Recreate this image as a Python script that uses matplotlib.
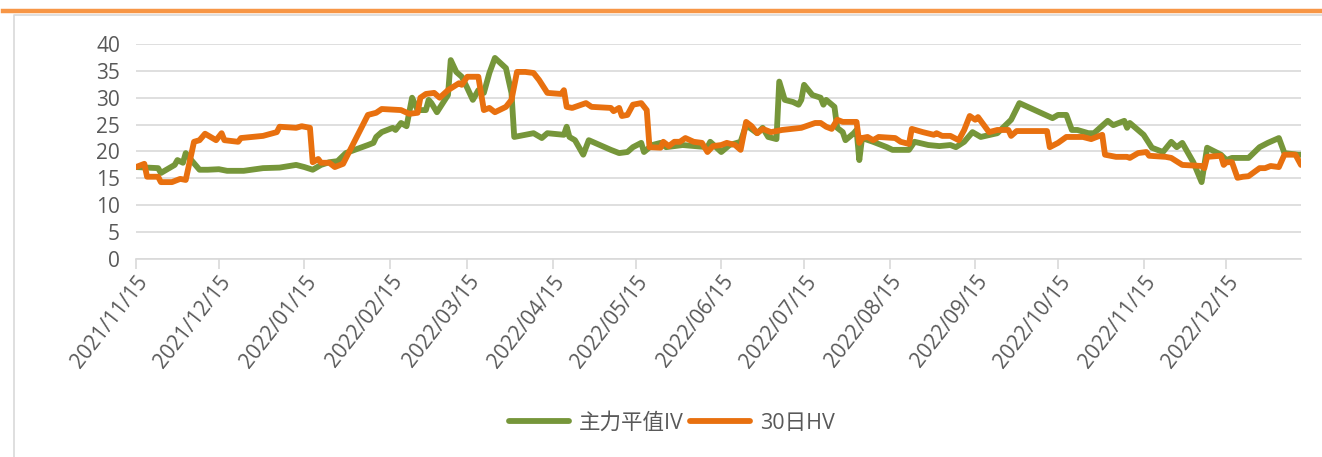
import pandas as pd
import matplotlib.pyplot as plt
import matplotlib.dates as mdates
from matplotlib.lines import Line2D

plt.rcParams['font.family'] = ['Open Sans', 'Noto Sans CJK SC', 'DejaVu Sans']

iv_dates = [
    "2021-11-15", "2021-11-23", "2021-11-24", "2021-11-27", "2021-11-29", "2021-11-30",
    "2021-12-02", "2021-12-03", "2021-12-05", "2021-12-08", "2021-12-11", "2021-12-15",
    "2021-12-18", "2021-12-24", "2021-12-31", "2022-01-06", "2022-01-12", "2022-01-15",
    "2022-01-18", "2022-01-21", "2022-01-24", "2022-01-27", "2022-01-30", "2022-02-07",
    "2022-02-09", "2022-02-10", "2022-02-12", "2022-02-16", "2022-02-17", "2022-02-19",
    "2022-02-21", "2022-02-23", "2022-02-25", "2022-02-28", "2022-03-01", "2022-03-02",
    "2022-03-04", "2022-03-08", "2022-03-09", "2022-03-11", "2022-03-13", "2022-03-15",
    "2022-03-17", "2022-03-19", "2022-03-21", "2022-03-23", "2022-03-25", "2022-03-29",
    "2022-03-31", "2022-04-01", "2022-04-05", "2022-04-08", "2022-04-11", "2022-04-13",
    "2022-04-19", "2022-04-20", "2022-04-21", "2022-04-23", "2022-04-26", "2022-04-28",
    "2022-05-06", "2022-05-09", "2022-05-12", "2022-05-14", "2022-05-17", "2022-05-18",
    "2022-05-21", "2022-05-24", "2022-05-26", "2022-06-01", "2022-06-10", "2022-06-11",
    "2022-06-15", "2022-06-18", "2022-06-22", "2022-06-24", "2022-06-28", "2022-06-30",
    "2022-07-02", "2022-07-05", "2022-07-06", "2022-07-08", "2022-07-11", "2022-07-13",
    "2022-07-14", "2022-07-15", "2022-07-18", "2022-07-21", "2022-07-22", "2022-07-23",
    "2022-07-26", "2022-07-27", "2022-07-29", "2022-07-30", "2022-08-02", "2022-08-03",
    "2022-08-04", "2022-08-05", "2022-08-09", "2022-08-14", "2022-08-16", "2022-08-22",
    "2022-08-24", "2022-08-29", "2022-09-02", "2022-09-06", "2022-09-08", "2022-09-11",
    "2022-09-14", "2022-09-17", "2022-09-23", "2022-09-28", "2022-10-01", "2022-10-13",
    "2022-10-15", "2022-10-18", "2022-10-20", "2022-10-22", "2022-10-26", "2022-10-28",
    "2022-11-02", "2022-11-04", "2022-11-08", "2022-11-09", "2022-11-10", "2022-11-15",
    "2022-11-18", "2022-11-22", "2022-11-25", "2022-11-27", "2022-11-29", "2022-12-03",
    "2022-12-06", "2022-12-08", "2022-12-13", "2022-12-15", "2022-12-17", "2022-12-23",
    "2022-12-27", "2022-12-30", "2023-01-03", "2023-01-05", "2023-01-10", "2023-01-11",
]
iv_values = [
    17.1, 16.9, 16.0, 16.9, 17.5, 18.4,
    17.9, 19.7, 18.4, 16.6, 16.6, 16.7,
    16.4, 16.4, 16.9, 17.0, 17.5, 17.1,
    16.6, 17.5, 18.0, 18.2, 19.7, 21.2,
    21.6, 22.7, 23.6, 24.4, 24.0, 25.3,
    24.7, 30.0, 27.7, 27.7, 29.6, 29.0,
    27.3, 30.5, 37.0, 34.8, 33.9, 31.8,
    29.6, 31.4, 30.9, 34.6, 37.4, 35.5,
    30.9, 22.7, 23.1, 23.4, 22.5, 23.4,
    23.1, 24.6, 22.7, 22.1, 19.4, 22.1,
    20.3, 19.7, 19.9, 20.8, 21.6, 19.9,
    21.2, 21.6, 20.8, 21.2, 20.8, 21.8,
    19.9, 21.2, 21.8, 24.9, 23.4, 24.4,
    22.7, 22.3, 33.0, 29.6, 29.2, 28.7,
    29.6, 32.4, 30.5, 30.0, 28.7, 29.6,
    28.3, 24.4, 23.6, 22.1, 23.4, 24.0,
    18.4, 22.5, 21.8, 20.8, 20.3, 20.3,
    21.8, 21.2, 21.0, 21.2, 20.8, 21.8,
    23.6, 22.7, 23.4, 25.9, 29.0, 26.2,
    26.8, 26.8, 24.0, 24.0, 23.4, 23.4,
    25.7, 24.9, 25.7, 24.4, 25.3, 23.1,
    20.7, 19.9, 21.8, 20.8, 21.6, 18.0,
    14.3, 20.7, 19.4, 18.4, 18.8, 18.8,
    20.8, 21.6, 22.5, 19.7, 19.4, 19.4,
]

hv_dates = [
    "2021-11-15", "2021-11-18", "2021-11-19", "2021-11-23", "2021-11-24", "2021-11-28",
    "2021-12-01", "2021-12-03", "2021-12-06", "2021-12-08", "2021-12-10", "2021-12-14",
    "2021-12-16", "2021-12-17", "2021-12-22", "2021-12-23", "2021-12-31", "2022-01-05",
    "2022-01-06", "2022-01-12", "2022-01-14", "2022-01-17", "2022-01-18", "2022-01-20",
    "2022-01-21", "2022-01-24", "2022-01-26", "2022-01-29", "2022-02-07", "2022-02-10",
    "2022-02-12", "2022-02-19", "2022-02-22", "2022-02-25", "2022-02-26", "2022-02-28",
    "2022-03-03", "2022-03-05", "2022-03-08", "2022-03-12", "2022-03-13", "2022-03-15",
    "2022-03-19", "2022-03-21", "2022-03-23", "2022-03-25", "2022-03-29", "2022-03-31",
    "2022-04-02", "2022-04-05", "2022-04-08", "2022-04-10", "2022-04-13", "2022-04-18",
    "2022-04-19", "2022-04-20", "2022-04-22", "2022-04-27", "2022-04-29", "2022-05-06",
    "2022-05-07", "2022-05-09", "2022-05-10", "2022-05-12", "2022-05-14", "2022-05-17",
    "2022-05-19", "2022-05-20", "2022-05-24", "2022-05-25", "2022-05-27", "2022-05-29",
    "2022-05-31", "2022-06-02", "2022-06-05", "2022-06-08", "2022-06-10", "2022-06-12",
    "2022-06-15", "2022-06-17", "2022-06-20", "2022-06-22", "2022-06-24", "2022-06-26",
    "2022-06-28", "2022-06-30", "2022-07-03", "2022-07-07", "2022-07-14", "2022-07-19",
    "2022-07-21", "2022-07-23", "2022-07-25", "2022-07-27", "2022-07-29", "2022-08-03",
    "2022-08-04", "2022-08-05", "2022-08-07", "2022-08-09", "2022-08-11", "2022-08-17",
    "2022-08-19", "2022-08-22", "2022-08-23", "2022-08-27", "2022-08-31", "2022-09-01",
    "2022-09-03", "2022-09-06", "2022-09-09", "2022-09-11", "2022-09-13", "2022-09-15",
    "2022-09-16", "2022-09-20", "2022-09-23", "2022-09-27", "2022-09-28", "2022-09-30",
    "2022-10-11", "2022-10-12", "2022-10-15", "2022-10-18", "2022-10-24", "2022-10-27",
    "2022-10-31", "2022-11-01", "2022-11-05", "2022-11-09", "2022-11-10", "2022-11-13",
    "2022-11-16", "2022-11-17", "2022-11-23", "2022-11-25", "2022-11-29", "2022-12-06",
    "2022-12-07", "2022-12-08", "2022-12-13", "2022-12-14", "2022-12-15", "2022-12-17",
    "2022-12-19", "2022-12-21", "2022-12-23", "2022-12-27", "2022-12-29", "2022-12-31",
    "2023-01-03", "2023-01-05", "2023-01-09", "2023-01-11",
]
hv_values = [
    17.1, 17.7, 15.3, 15.3, 14.3, 14.3,
    14.9, 14.7, 21.8, 22.1, 23.3, 22.1,
    23.4, 22.1, 21.8, 22.5, 22.9, 23.6,
    24.6, 24.4, 24.7, 24.4, 18.0, 18.6,
    17.9, 17.9, 17.1, 17.7, 26.8, 27.2,
    27.9, 27.7, 27.0, 27.2, 30.0, 30.7,
    30.9, 30.0, 31.4, 32.7, 32.4, 33.9,
    33.9, 27.7, 28.1, 27.3, 28.3, 29.6,
    34.8, 34.8, 34.6, 33.3, 30.9, 30.7,
    31.4, 28.3, 28.1, 29.0, 28.3, 28.1,
    27.5, 28.1, 26.6, 26.8, 28.7, 29.0,
    27.7, 20.8, 20.7, 21.8, 21.0, 21.8,
    21.8, 22.5, 21.8, 21.6, 19.9, 21.0,
    21.2, 21.6, 21.2, 20.3, 25.5, 24.7,
    23.4, 24.2, 23.6, 24.0, 24.4, 25.3,
    25.3, 24.6, 24.2, 25.9, 25.5, 25.5,
    21.6, 22.5, 22.7, 22.1, 22.7, 22.5,
    21.8, 21.4, 24.2, 23.6, 23.1, 23.4,
    22.9, 22.9, 22.1, 24.0, 26.6, 25.9,
    26.4, 23.6, 24.0, 24.0, 22.9, 23.8,
    23.8, 20.8, 21.6, 22.7, 22.7, 22.3,
    23.1, 19.4, 19.0, 19.0, 18.8, 19.7,
    19.9, 19.2, 19.0, 18.8, 17.5, 17.3,
    16.9, 19.0, 19.2, 17.5, 18.0, 18.0,
    15.1, 15.3, 15.4, 16.9, 16.9, 17.3,
    17.1, 19.4, 19.4, 17.5,
]

tick_dates = pd.date_range("2021-11-01", "2022-12-01", freq="MS") + pd.Timedelta(days=14)
y_ticks = [0, 5, 10, 15, 20, 25, 30, 35, 40]

green = "#76963a"
orange = "#e8700f"
grid_c = "#d9d9d9"
text_c = "#595959"

fig = plt.figure(figsize=(13.22, 4.57), dpi=100)

# top orange band and chart-area border
fig.add_artist(Line2D([0.002, 1.0], [0.975, 0.975], color="#f79646", lw=3.2,
                      transform=fig.transFigure))
fig.add_artist(Line2D([0.0106, 0.0106, 1.0], [0.0, 0.968, 0.968], color="#d9d9d9", lw=1.2,
                      transform=fig.transFigure))

ax = fig.add_axes([0.1029, 0.4333, 0.8812, 0.4705])

ax.plot(pd.to_datetime(iv_dates), iv_values, color=green, lw=4.2,
        solid_joinstyle="round", solid_capstyle="round", label="主力平值IV", zorder=3)
ax.plot(pd.to_datetime(hv_dates), hv_values, color=orange, lw=4.2,
        solid_joinstyle="round", solid_capstyle="round", label="30日HV", zorder=3)

ax.set_ylim(0, 40)
ax.set_yticks(y_ticks)
ax.set_xlim(pd.Timestamp("2021-11-15"), pd.Timestamp("2023-01-11"))
ax.set_xticks(tick_dates)
ax.xaxis.set_major_formatter(mdates.DateFormatter("%Y/%m/%d"))

ax.grid(axis="y", color=grid_c, lw=1.2)
ax.set_axisbelow(True)
for s in ["top", "right", "left"]:
    ax.spines[s].set_visible(False)
ax.spines["bottom"].set_color(grid_c)
ax.spines["bottom"].set_linewidth(1.2)

ax.tick_params(axis="y", length=0, pad=11.5, labelsize=15, labelcolor=text_c)
ax.tick_params(axis="x", length=7, width=1.2, color=grid_c, pad=2,
               labelsize=15, labelcolor=text_c)
for lab in ax.get_xticklabels():
    lab.set_rotation(52)
    lab.set_ha("right")
    lab.set_rotation_mode("anchor")

fig.legend(loc="center", bbox_to_anchor=(0.508, 0.074), ncol=2, frameon=False,
           fontsize=15.5, handlelength=2.8, handletextpad=0.45, columnspacing=0.3,
           labelcolor=text_c)

fig.savefig("out.png", dpi=100)
